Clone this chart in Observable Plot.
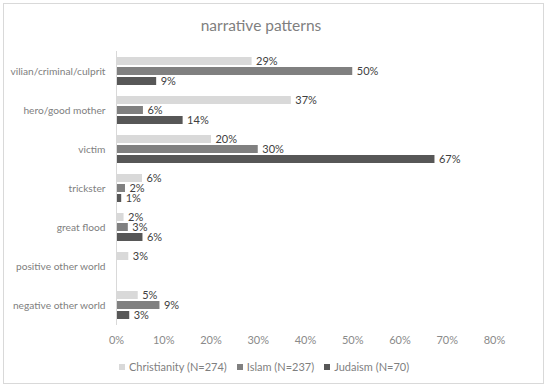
<!DOCTYPE html>
<html>
<head>
<meta charset="utf-8">
<script src="https://cdn.jsdelivr.net/npm/d3@7"></script>
<script src="https://cdn.jsdelivr.net/npm/@observablehq/plot@0.6"></script>
<style>
  html, body { margin: 0; padding: 0; background: #fff; }
  #wrap { position: relative; width: 550px; height: 388px; overflow: hidden; font-family: Lato, "Liberation Sans", sans-serif; }
  #frame { position: absolute; left: 3px; top: 3px; width: 541px; height: 381px; border: 1px solid #d9d9d9; box-sizing: border-box; }
  #title { position: absolute; left: 0; width: 522px; top: 16px; text-align: center; font-size: 15.5px; color: #7f7f7f; }
  #chart { position: absolute; left: 0; top: 0; }
  #legend { position: absolute; left: 0; width: 528px; top: 360px; text-align: center; font-size: 11px; color: #7f7f7f; white-space: nowrap; }
  #legend span.item { margin: 0 5px; }
  #legend span.sw { display: inline-block; width: 6px; height: 6px; margin-right: 4px; vertical-align: 1px; }
</style>
</head>
<body>
<div id="wrap">
  <div id="frame"></div>
  <div id="chart"></div>
  <div id="title">narrative patterns</div>
  <div id="legend"></div>
</div>
<script>
const categories = ["vilian/criminal/culprit", "hero/good mother", "victim", "trickster", "great flood", "positive other world", "negative other world"];
const seriesNames = ["Christianity (N=274)", "Islam (N=237)", "Judaism (N=70)"];
const seriesColors = ["#d9d9d9", "#808080", "#575757"];
const christianity = [0.287, 0.370, 0.201, 0.055, 0.016, 0.026, 0.046];
const islam = [0.500, 0.057, 0.300, 0.019, 0.025, 0, 0.092];
const judaism = [0.085, 0.141, 0.674, 0.011, 0.056, 0, 0.028];
const xTicks = [0, 0.1, 0.2, 0.3, 0.4, 0.5, 0.6, 0.7, 0.8];

const valuesBySeries = [christianity, islam, judaism];
const data = [];
categories.forEach((c, i) => {
  seriesNames.forEach((s, j) => {
    data.push({category: c, series: s, value: valuesBySeries[j][i]});
  });
});
const labelled = data.filter(d => d.value > 0);

const plot = Plot.plot({
  width: 550,
  height: 346,
  marginLeft: 116,
  marginRight: 56,
  marginTop: 50,
  marginBottom: 20,
  style: {fontFamily: "Lato, 'Liberation Sans', sans-serif", fontSize: "11px", background: "transparent"},
  x: {domain: [0, 0.8], ticks: xTicks, tickFormat: d3.format(".0%"), tickSize: 0, tickPadding: 16, label: null},
  y: {domain: seriesNames, axis: null, paddingInner: 0.2, paddingOuter: 0.1},
  fy: {domain: categories, label: null, tickSize: 0, tickPadding: 11, paddingInner: 0.24, paddingOuter: 0.12},
  color: {domain: seriesNames, range: seriesColors},
  marks: [
    Plot.barX(data, {x: "value", y: "series", fy: "category", fill: "series"}),
    Plot.text(labelled, {x: "value", y: "series", fy: "category", text: d => d3.format(".0%")(d.value), textAnchor: "start", dx: 4, fill: "#404040", fontSize: 11}),
    Plot.ruleX([0], {stroke: "#d9d9d9", insetTop: -5, insetBottom: -5})
  ]
});
document.getElementById("chart").appendChild(plot);
plot.querySelectorAll("g[aria-label='x-axis tick label']").forEach(g => { g.style.fill = "#8a8a8a"; g.querySelectorAll("text").forEach(t => t.style.fill = "#8a8a8a"); });
plot.querySelectorAll("g[aria-label='fy-axis tick label']").forEach(g => { g.style.fill = "#808080"; g.style.fontSize = "10.2px"; g.querySelectorAll("text").forEach(t => t.style.fill = "#808080"); });

const legend = document.getElementById("legend");
seriesNames.forEach((s, j) => {
  const item = document.createElement("span");
  item.className = "item";
  const sw = document.createElement("span");
  sw.className = "sw";
  sw.style.background = seriesColors[j];
  item.appendChild(sw);
  item.appendChild(document.createTextNode(s));
  legend.appendChild(item);
});
</script>
</body>
</html>
